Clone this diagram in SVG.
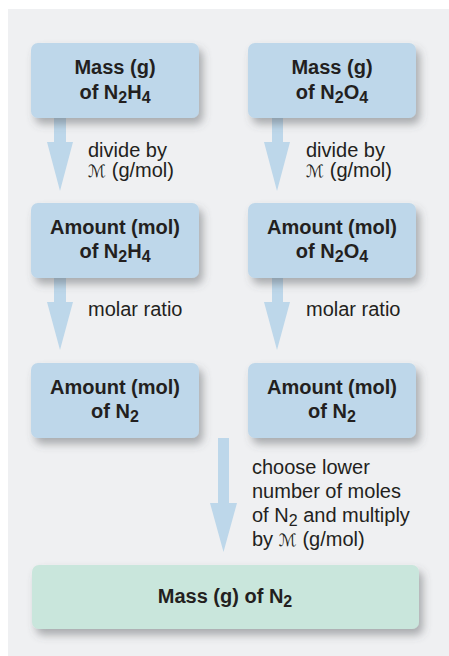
<svg xmlns="http://www.w3.org/2000/svg" width="449" height="656" viewBox="0 0 449 656">
<defs>
<filter id="sh" x="-20%" y="-30%" width="150%" height="180%">
<feDropShadow dx="4" dy="6" stdDeviation="4" flood-color="#55565c" flood-opacity="0.45"/>
</filter>
<style>
.box{fill:#bed7ea;filter:url(#sh)}
.gbox{fill:#c9e6dc;filter:url(#sh)}
.arr{fill:#bdd7ea}
.b{font-family:"Liberation Sans",Arial,sans-serif;font-weight:bold;font-size:20px;fill:#231f20;text-anchor:middle}
.r{font-family:"Liberation Sans",Arial,sans-serif;font-size:20px;fill:#231f20}
.sub{font-size:16px}
.m{font-family:"DejaVu Serif","DejaVu Sans",serif;font-size:17px;font-style:italic;font-weight:normal}
</style>
</defs>
<rect x="0" y="0" width="449" height="656" fill="#ffffff"/>
<rect x="8" y="9" width="441" height="647" fill="#eff0f2"/>

<g id="connectors">
<polygon class="arr" points="54,118 66,118 66,142 73,142 60,191 47,142 54,142"/>
<polygon class="arr" points="272,118 283,118 283,142 290,142 277,191 264,142 272,142"/>
<polygon class="arr" points="54,278 66,278 66,302 73,302 60,350 47,302 54,302"/>
<polygon class="arr" points="272,278 283,278 283,302 290,302 277,350 264,302 272,302"/>
<polygon class="arr" points="218,438 229,438 229,503 237,503 223.5,552 210,503 218,503"/>
</g>

<g id="label-divide-left">
<text class="r" x="88" y="157">divide by</text>
<text class="r" x="88" y="177"><tspan class="m">ℳ</tspan> (g/mol)</text>
</g>
<g id="label-divide-right">
<text class="r" x="306" y="157">divide by</text>
<text class="r" x="306" y="177"><tspan class="m">ℳ</tspan> (g/mol)</text>
</g>
<g id="label-ratio-left">
<text class="r" x="88" y="316">molar ratio</text>
</g>
<g id="label-ratio-right">
<text class="r" x="306" y="316">molar ratio</text>
</g>
<g id="label-choose">
<text class="r" x="252" y="474">choose lower</text>
<text class="r" x="252" y="498">number of moles</text>
<text class="r" x="252" y="522">of N<tspan class="sub" dy="4">2</tspan><tspan dy="-4"> and multiply</tspan></text>
<text class="r" x="252" y="546">by <tspan class="m">ℳ</tspan> (g/mol)</text>
</g>

<g id="node-mass-n2h4">
<rect class="box" x="31" y="43" width="168" height="75" rx="7"/>
<text class="b" x="115" y="74">Mass (g)</text>
<text class="b" x="115" y="99">of N<tspan class="sub" dy="4">2</tspan><tspan dy="-4">H</tspan><tspan class="sub" dy="4">4</tspan></text>
</g>
<g id="node-mass-n2o4">
<rect class="box" x="248" y="43" width="168" height="75" rx="7"/>
<text class="b" x="332" y="74">Mass (g)</text>
<text class="b" x="332" y="99">of N<tspan class="sub" dy="4">2</tspan><tspan dy="-4">O</tspan><tspan class="sub" dy="4">4</tspan></text>
</g>
<g id="node-amount-n2h4">
<rect class="box" x="31" y="203" width="168" height="75" rx="7"/>
<text class="b" x="115" y="234">Amount (mol)</text>
<text class="b" x="115" y="258">of N<tspan class="sub" dy="4">2</tspan><tspan dy="-4">H</tspan><tspan class="sub" dy="4">4</tspan></text>
</g>
<g id="node-amount-n2o4">
<rect class="box" x="248" y="203" width="168" height="75" rx="7"/>
<text class="b" x="332" y="234">Amount (mol)</text>
<text class="b" x="332" y="258">of N<tspan class="sub" dy="4">2</tspan><tspan dy="-4">O</tspan><tspan class="sub" dy="4">4</tspan></text>
</g>
<g id="node-amount-n2-left">
<rect class="box" x="31" y="363" width="168" height="75" rx="7"/>
<text class="b" x="115" y="394">Amount (mol)</text>
<text class="b" x="115" y="418">of N<tspan class="sub" dy="4">2</tspan></text>
</g>
<g id="node-amount-n2-right">
<rect class="box" x="248" y="363" width="168" height="75" rx="7"/>
<text class="b" x="332" y="394">Amount (mol)</text>
<text class="b" x="332" y="418">of N<tspan class="sub" dy="4">2</tspan></text>
</g>
<g id="node-mass-n2">
<rect class="gbox" x="32" y="565" width="387" height="64" rx="7"/>
<text class="b" x="225" y="603">Mass (g) of N<tspan class="sub" dy="4">2</tspan></text>
</g>
</svg>
